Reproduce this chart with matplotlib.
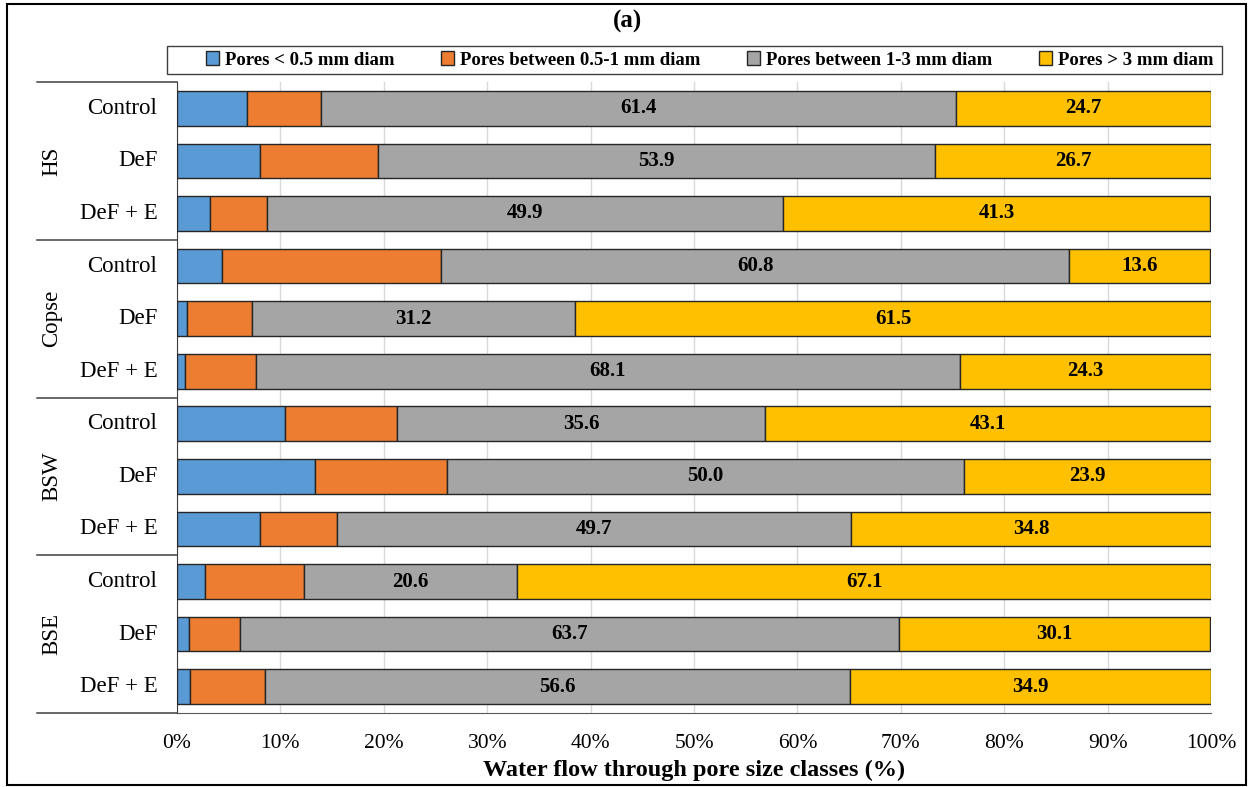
import numpy as np
import matplotlib.pyplot as plt
from matplotlib.patches import Rectangle

plt.rcParams['font.family'] = ['Liberation Serif', 'DejaVu Serif']

groups = ["HS", "Copse", "BSW", "BSE"]
treatments = ["Control", "DeF", "DeF + E"]
series_names = ["Pores < 0.5 mm diam", "Pores between 0.5-1 mm diam",
                "Pores between 1-3 mm diam", "Pores > 3 mm diam"]
colors = ["#5B9BD5", "#ED7D31", "#A5A5A5", "#FFC000"]

# rows in order HS Control .. BSE DeF + E
pores_lt05 = [6.8, 8.0, 3.2, 4.4, 1.0, 0.8, 10.4, 13.3, 8.0, 2.7, 1.2, 1.3]
pores_05_1 = [7.1, 11.4, 5.5, 21.1, 6.3, 6.8, 10.9, 12.8, 7.5, 9.6, 4.9, 7.2]
pores_1_3 = [61.4, 53.9, 49.9, 60.8, 31.2, 68.1, 35.6, 50.0, 49.7, 20.6, 63.7, 56.6]
pores_gt3 = [24.7, 26.7, 41.3, 13.6, 61.5, 24.3, 43.1, 23.9, 34.8, 67.1, 30.1, 34.9]

series = [pores_lt05, pores_05_1, pores_1_3, pores_gt3]
labelled = [False, False, True, True]

W, H = 1256, 787
fig = plt.figure(figsize=(W / 100, H / 100), dpi=100)
ax = fig.add_axes([177 / W, 1 - 713 / H, (1211 - 177) / W, (713 - 82) / H])

n = len(groups) * len(treatments)
y = np.arange(n)
left = np.zeros(n)
for vals, col, name, lab in zip(series, colors, series_names, labelled):
    vals = np.array(vals)
    ax.barh(y, vals, left=left, height=0.66, color=col,
            edgecolor="#262626", linewidth=1.0, label=name, zorder=3)
    if lab:
        for yy, l, v in zip(y, left, vals):
            ax.text(l + v / 2, yy, f"{v:.1f}", ha="center", va="center",
                    fontsize=15, fontweight="bold", color="black", zorder=4)
    left += vals

ax.set_xlim(0, 100)
ax.set_ylim(n - 0.5, -0.5)
ax.set_xticks(np.arange(0, 101, 10))
ax.set_xticklabels([f"{t}%" for t in range(0, 101, 10)], fontsize=15.5)
ax.tick_params(axis="x", length=0, pad=15)
ax.grid(axis="x", color="#D9D9D9", linewidth=1, zorder=0)
ax.set_yticks([])
for s in ["top", "right"]:
    ax.spines[s].set_visible(False)
ax.spines["left"].set_color("#404040")
ax.spines["bottom"].set_color("#595959")
ax.set_xlabel("Water flow through pore size classes (%)", fontsize=17.5,
              fontweight="bold", labelpad=5)

# category labels and group labels
for i in range(n):
    ax.text(-1.9, i, treatments[i % 3], ha="right", va="center",
            fontsize=16.5, transform=ax.transData)
x_line0 = (37 - 177) / (1211 - 177) * 100
for g, name in enumerate(groups):
    yc = g * 3 + 1
    ax.text((52 - 177) / (1211 - 177) * 100, yc, name, rotation=90,
            ha="center", va="center", fontsize=16.5)
for b in range(len(groups) + 1):
    yb = b * 3 - 0.5
    ax.plot([x_line0, 0], [yb, yb], color="#404040", linewidth=1.1,
            clip_on=False, zorder=5)

fig.text(627 / W, 1 - 21 / H, "(a)", ha="center", va="center",
         fontsize=18, fontweight="bold")

leg = fig.legend(loc="center", ncol=4,
                 bbox_to_anchor=(205 / W, 1 - 74 / H, (1214 - 205) / W, 28 / H),
                 prop={"weight": "bold", "size": 13.5}, frameon=False,
                 handlelength=0.7, handleheight=0.7, handletextpad=0.3,
                 borderaxespad=0, borderpad=0.2, columnspacing=2.5)
fig.patches.append(Rectangle((167 / W, 1 - 74 / H), (1222 - 167) / W, 28 / H,
                             transform=fig.transFigure, fill=False,
                             edgecolor="#404040", linewidth=1.0))

fig.patches.append(Rectangle((7 / W, 2 / H), (1246 - 7) / W, (783 - 2) / H,
                             transform=fig.transFigure, fill=False,
                             edgecolor="black", linewidth=1.5))

fig.savefig("out.png", dpi=100)
